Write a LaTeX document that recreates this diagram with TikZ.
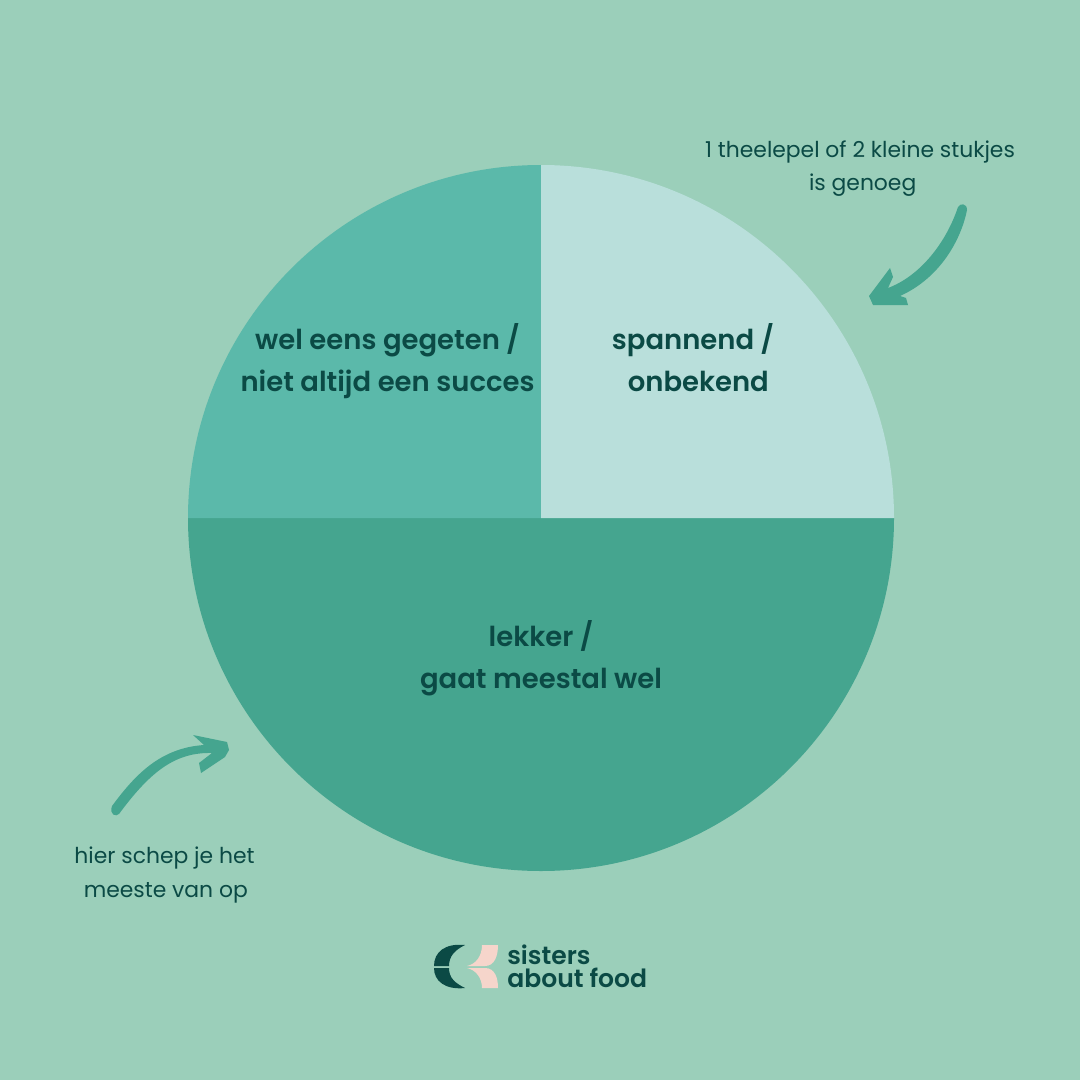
\documentclass[tikz,border=0pt]{standalone}
\usepackage{fontspec}
\setmainfont{Poppins}
\newfontfamily\medf{Poppins SemiBold}
\definecolor{bgc}{HTML}{9BCFBA}
\definecolor{lightc}{HTML}{B9DFDB}
\definecolor{midc}{HTML}{5BB9AA}
\definecolor{darkc}{HTML}{45A58F}
\definecolor{textc}{HTML}{0B4A45}
\definecolor{pinkc}{HTML}{F6D5CB}
\tikzset{
  px/.style={x=0.75pt,y=-0.75pt},
  biglabel/.style={text=textc,align=center,font=\medf\fontsize{20.6}{31.5}\selectfont,inner sep=0pt},
  smalllabel/.style={text=textc,align=center,font=\fontsize{16.4}{24.8}\selectfont,inner sep=0pt},
  logolabel/.style={text=textc,align=left,font=\medf\fontsize{18.8}{17.5}\selectfont,inner sep=0pt},
  sweep/.style={fill=darkc,draw=none}
}
\begin{document}
\begin{tikzpicture}[px]
\useasboundingbox (0,0) rectangle (1080,1080);
\fill[bgc] (0,0) rectangle (1080,1080);
% pie: drawn in px coordinates, y axis points down
\fill[darkc] (188,518) arc[start angle=180,end angle=360,x radius=353,y radius=-353] -- cycle;
\fill[midc] (541,518) -- (188,518) arc[start angle=180,end angle=90,x radius=353,y radius=-353] -- cycle;
\fill[lightc] (541,518) -- (541,165) arc[start angle=90,end angle=0,x radius=353,y radius=-353] -- cycle;
\node[biglabel] (wel) at (387.5,361) {wel eens gegeten /\\niet altijd een succes};
\node[biglabel] (span) at (693,358) {spannend /\\\hspace*{8pt}onbekend};
\node[biglabel] (lek) at (541,658) {lekker /\\gaat meestal wel};
\node[smalllabel] (top) at (860,169) {1 theelepel of 2 kleine stukjes\\\hspace*{4pt}is genoeg};
\node[smalllabel] (bot) at (164.5,875) {hier schep je het\\\hspace*{2pt}meeste van op};
% upper-right arrow
\fill[sweep] (958,207) .. controls (960,203) and (967,203) .. (967,210)
 .. controls (961,240) and (940,278) .. (900,296)
 -- (906,298) -- (908,305) -- (873,305) -- (869,296) -- (890,268) -- (893,277) -- (888,288)
 .. controls (920,276) and (946,243) .. (958,207) -- cycle;
% lower-left arrow
\fill[sweep] (112,806) .. controls (135,775) and (160,748) .. (204,745)
 -- (193,735) -- (227,742) -- (229,750) -- (225,757) -- (201,773) -- (199,763) -- (212,753)
 .. controls (175,752) and (150,772) .. (119,814)
 .. controls (116,817) and (109,815) .. (112,806) -- cycle;
% logo mark
\fill[textc] (465,945) .. controls (445,943) and (434,952) .. (434,966) -- (449,966) .. controls (449,956) and (455,950) .. (465,945) -- cycle;
\fill[textc] (465,988) .. controls (445,990) and (434,981) .. (434,968) -- (449,968) .. controls (449,978) and (455,983) .. (465,988) -- cycle;
\fill[pinkc] (482,945) -- (498,945) .. controls (498,955) and (495,966) .. (485,966) -- (467,966) .. controls (476,964) and (482,956) .. (482,945) -- cycle;
\fill[pinkc] (482,988) -- (498,988) .. controls (498,978) and (495,968) .. (485,968) -- (467,968) .. controls (476,970) and (482,978) .. (482,988) -- cycle;
\node[logolabel,anchor=west] (logo) at (507,966.5) {sisters\\about food};
\end{tikzpicture}
\end{document}
